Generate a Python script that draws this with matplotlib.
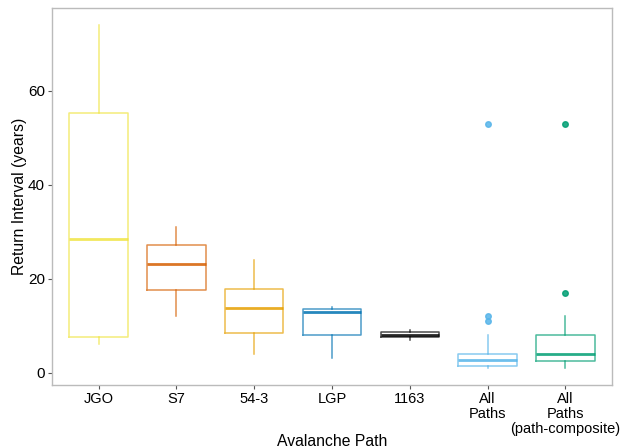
import matplotlib
matplotlib.use("Agg")
import matplotlib.pyplot as plt

plt.rcParams['font.family'] = ['Liberation Sans', 'DejaVu Sans']

# ======== 数据（从图中读取的箱线图统计量） ========
paths = ["JGO", "S7", "54-3", "LGP", "1163", "All\nPaths", "All\nPaths\n(path-composite)"]
whislo = [6, 12, 4, 3.2, 7, 1, 1]
q1 = [7.5, 17.5, 8.5, 8.1, 7.6, 1.3, 2.5]
med = [28.4, 23.1, 13.7, 13.0, 8.0, 2.6, 4.0]
q3 = [55.3, 27.1, 17.7, 13.5, 8.6, 4.0, 8.0]
whishi = [74, 31, 24, 13.9, 9, 8, 12]
fliers = [[], [], [], [], [], [11, 12, 53], [17, 53]]
colors = ["#F0E442", "#D55E00", "#E69F00", "#0072B2", "#000000", "#56B4E9", "#009E73"]

stats = []
for i in range(len(paths)):
    stats.append(dict(whislo=whislo[i], q1=q1[i], med=med[i], q3=q3[i],
                      whishi=whishi[i], fliers=fliers[i]))

fig = plt.figure(figsize=(6.24, 4.48), dpi=100)
ax = fig.add_axes([0.0833, 0.1406, 0.8977, 0.8415])

for i, s in enumerate(stats):
    c = colors[i]
    ax.bxp([s], positions=[i + 1], widths=0.75, showcaps=False,
           boxprops=dict(color=c, linewidth=1.1, alpha=0.7),
           whiskerprops=dict(color=c, linewidth=1.1, alpha=0.7),
           medianprops=dict(color=c, linewidth=2.0, alpha=0.85),
           flierprops=dict(marker="o", markerfacecolor=c, markeredgecolor=c,
                           markersize=4, alpha=0.85))

ax.set_xlim(0.4, len(paths) + 0.6)
ax.set_ylim(-2.65, 77.65)
ax.set_yticks([0, 20, 40, 60])
ax.set_xticks(range(1, len(paths) + 1))
ax.set_xticklabels(paths, fontsize=10.5, va="top", linespacing=1.1)
ax.tick_params(axis="y", labelsize=11, pad=2)
ax.tick_params(axis="x", pad=2)
ax.tick_params(colors="#555555", length=3, width=0.8, labelcolor="black")

for sp in ax.spines.values():
    sp.set_color("#bbbbbb")
    sp.set_linewidth(1.0)

ax.set_xlabel("Avalanche Path", fontsize=11.3, va="center")
ax.xaxis.set_label_coords(0.5, (385 - 441) / 377)
ax.set_ylabel("Return Interval (years)", fontsize=11.3, va="center")
ax.yaxis.set_label_coords((20 - 52) / 560, 0.5)

fig.savefig("out.png", dpi=100)
